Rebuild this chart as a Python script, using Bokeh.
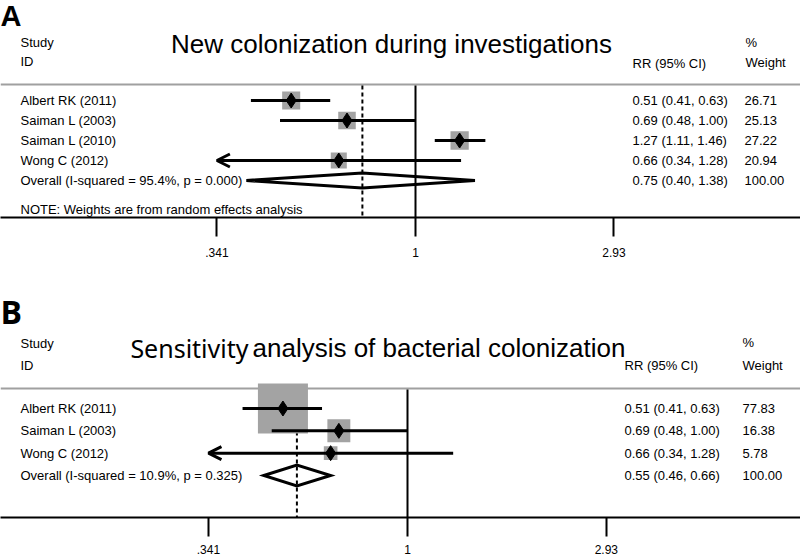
import math
from bokeh.plotting import figure
from bokeh.models import Range1d, LinearScale, FixedTicker, Arrow, OpenHead
from bokeh.layouts import column
from bokeh.embed import file_html
from bokeh.resources import INLINE
from bokeh.core.properties import value

# ---------------- data ----------------
TICKS = [0.341, 1, 2.93]
TICK_LABELS = [".341", "1", "2.93"]
NULL_EFFECT = 1

A_LETTER = "A"
A_TITLE = ["New colonization during investigations"]
A_STUDIES = ["Albert RK (2011)", "Saiman L (2003)", "Saiman L (2010)", "Wong C (2012)"]
A_RR = [0.51, 0.69, 1.27, 0.66]
A_LO = [0.41, 0.48, 1.11, 0.34]
A_HI = [0.63, 1.00, 1.46, 1.28]
A_W = [26.71, 25.13, 27.22, 20.94]
A_OVERALL = [0.75, 0.40, 1.38]
A_OVERALL_LABEL = "Overall  (I-squared = 95.4%, p = 0.000)"
A_NOTE = "NOTE: Weights are from random effects analysis"

B_LETTER = "B"
B_TITLE = ["Sensitivity", "analysis of bacterial colonization"]
B_STUDIES = ["Albert RK (2011)", "Saiman L (2003)", "Wong C (2012)"]
B_RR = [0.51, 0.69, 0.66]
B_LO = [0.41, 0.48, 0.34]
B_HI = [0.63, 1.00, 1.28]
B_W = [77.83, 16.38, 5.78]
B_OVERALL = [0.55, 0.46, 0.66]
B_OVERALL_LABEL = "Overall  (I-squared = 10.9%, p = 0.325)"

FONT = "Liberation Sans"
FW = 800


def make_panel(letter, title, studies, rr, lo, hi, w, overall, overall_label, note, L):
    fh = L["frame_h"]
    x_one, ppl = L["x_one"], L["ppl"]
    xlo = math.exp(-x_one / ppl)
    xhi = math.exp((FW - x_one) / ppl)
    row0, dr = L["row0"], L["row_step"]
    p = figure(frame_width=FW, frame_height=fh, x_axis_type="log",
               x_range=Range1d(xlo, xhi),
               y_range=Range1d((fh - row0) / dr, -row0 / dr),
               output_backend="svg", toolbar_location=None,
               min_border_left=0, min_border_right=0, min_border_top=0,
               min_border_bottom=L["border_bottom"], y_axis_location=None,
               outline_line_color=None, background_fill_color="white",
               border_fill_color="white")
    p.extra_x_ranges = {"px": Range1d(0, FW)}
    p.extra_x_scales = {"px": LinearScale()}
    p.extra_y_ranges = {"px": Range1d(fh, 0)}
    p.extra_y_scales = {"px": LinearScale()}
    p.xgrid.visible = False
    p.ygrid.visible = False

    ax = p.xaxis[0]
    ax.ticker = FixedTicker(ticks=TICKS, minor_ticks=[])
    ax.major_label_overrides = {t: s for t, s in zip(TICKS, TICK_LABELS)}
    ax.axis_line_width = 2
    ax.axis_line_color = "black"
    ax.major_tick_line_width = 2
    ax.major_tick_line_color = "black"
    ax.major_tick_out = 19
    ax.major_tick_in = 0
    ax.minor_tick_line_color = None
    ax.major_label_standoff = L["standoff"]
    ax.major_label_text_font = FONT
    ax.major_label_text_font_size = "12px"
    ax.major_label_text_color = "black"

    n = len(studies)
    rows = list(range(n))
    orow = n
    est, olo, ohi = overall

    # header separator
    p.segment(x0=[0], x1=[FW], y0=[L["hdr_y"]], y1=[L["hdr_y"]],
              x_range_name="px", y_range_name="px", line_color="#a0a0a0", line_width=2)
    # null effect line
    p.segment(x0=[NULL_EFFECT], x1=[NULL_EFFECT], y0=[L["hdr_y"] + 1], y1=[fh],
              y_range_name="px", line_color="black", line_width=2)
    # overall dashed line
    p.segment(x0=[est], x1=[est], y0=[L["hdr_y"] + 1], y1=[fh],
              y_range_name="px", line_color="black", line_width=2, line_dash="4 3")

    # weight boxes
    sizes = [L["box_scale"] * math.sqrt(v) for v in w]
    p.scatter(x=rr, y=rows, size=sizes, marker="square", fill_color="#a3a3a3",
              line_color=None)

    # CI lines
    amin = min(TICKS)
    for i in rows:
        if lo[i] < amin:
            p.add_layout(Arrow(end=OpenHead(size=13, line_width=3, line_color="black"),
                               x_start=hi[i], y_start=i, x_end=amin, y_end=i,
                               line_width=3, line_color="black"))
        else:
            p.segment(x0=[lo[i]], x1=[hi[i]], y0=[i], y1=[i], line_color="black",
                      line_width=3)
    p.scatter(x=rr, y=rows, size=15, marker="diamond", fill_color="black",
              line_color="black")

    # overall diamond
    h = L["dia_half"] / dr
    p.patch(x=[olo, est, ohi, est], y=[orow, orow - h, orow, orow + h],
            fill_color=None, line_color="black", line_width=3, line_join="miter")

    tf = value(FONT)
    fs = "13px"
    # left column
    p.text(x=L["name_x"], y=rows + [orow], text=studies + [overall_label],
           x_range_name="px", text_font=tf, text_font_size=fs,
           text_baseline="middle", text_color="black")
    # RR column
    rr_txt = [f"{a:.2f} ({b:.2f}, {c:.2f})" for a, b, c in zip(rr + [est], lo + [olo], hi + [ohi])]
    p.text(x=L["rr_x"], y=rows + [orow], text=rr_txt, x_range_name="px",
           text_font=tf, text_font_size=fs, text_baseline="middle", text_color="black")
    w_txt = [f"{v:.2f}" for v in w] + ["100.00"]
    p.text(x=L["w_x"], y=rows + [orow], text=w_txt, x_range_name="px",
           text_font=tf, text_font_size=fs, text_baseline="middle", text_color="black")

    # headers
    hx = [L["name_x"], L["name_x"], L["rr_x"], L["pct_x"], L["pct_x"]]
    hy = [L["study_y"], L["id_y"], L["rr_hdr_y"], L["pct_y"], L["weight_y"]]
    ht = ["Study", "ID", "RR (95% CI)", "%", "Weight"]
    p.text(x=hx, y=hy, text=ht, x_range_name="px", y_range_name="px",
           text_font=tf, text_font_size=fs, text_baseline="middle", text_color="black")
    if note:
        p.text(x=[L["name_x"]], y=[L["note_y"]], text=[note], x_range_name="px",
               y_range_name="px", text_font=tf, text_font_size=fs,
               text_baseline="middle", text_color="black")

    # title
    if len(title) == 1:
        p.text(x=[L["title_x"]], y=[L["title_y"]], text=title, x_range_name="px",
               y_range_name="px", text_font=tf, text_font_size="26px",
               text_align="center", text_baseline="middle", text_color="black")
    else:
        p.text(x=[L["title_x"] - 2], y=[L["title_y"]], text=[title[0]], x_range_name="px",
               y_range_name="px", text_font=value("Noto Sans"), text_font_size="25px",
               text_align="right", text_baseline="middle", text_color="black")
        p.text(x=[L["title_x"] + 2], y=[L["title_y"]], text=[title[1]], x_range_name="px",
               y_range_name="px", text_font=tf, text_font_size="26px",
               text_align="left", text_baseline="middle", text_color="black")

    # panel letter
    p.text(x=[0], y=[L["letter_y"]], text=[letter], x_range_name="px", y_range_name="px",
           text_font=value(L["letter_font"]), text_font_size=L["letter_size"],
           text_font_style="bold", text_baseline="middle", text_color="black")
    return p


LA = dict(frame_h=217, x_one=415, ppl=184.6, row0=100, row_step=20, hdr_y=84,
          study_y=42, id_y=61, rr_hdr_y=63, pct_y=42, weight_y=62, rr_x=632,
          w_x=744, pct_x=745, name_x=20, title_x=391, title_y=43, letter_y=15,
          note_y=209, dia_half=7.5, box_scale=3.5, border_bottom=53, standoff=11,
          letter_font="Liberation Sans", letter_size="29px")
LB = dict(frame_h=247, x_one=407, ppl=185.0, row0=138, row_step=22.33, hdr_y=118,
          study_y=73, id_y=95, rr_hdr_y=95, pct_y=72, weight_y=95, rr_x=624,
          w_x=742, pct_x=742, name_x=20, title_x=250, title_y=77, letter_y=41,
          note_y=None, dia_half=10.5, box_scale=5.67, border_bottom=41, standoff=8,
          letter_font="Open Sans", letter_size="32px")

pa = make_panel(A_LETTER, A_TITLE, A_STUDIES, A_RR, A_LO, A_HI, A_W, A_OVERALL,
                A_OVERALL_LABEL, A_NOTE, LA)
pb = make_panel(B_LETTER, B_TITLE, B_STUDIES, B_RR, B_LO, B_HI, B_W, B_OVERALL,
                B_OVERALL_LABEL, None, LB)

layout = column(pa, pb, spacing=0)
open("out.html", "w").write(file_html(layout, INLINE))
